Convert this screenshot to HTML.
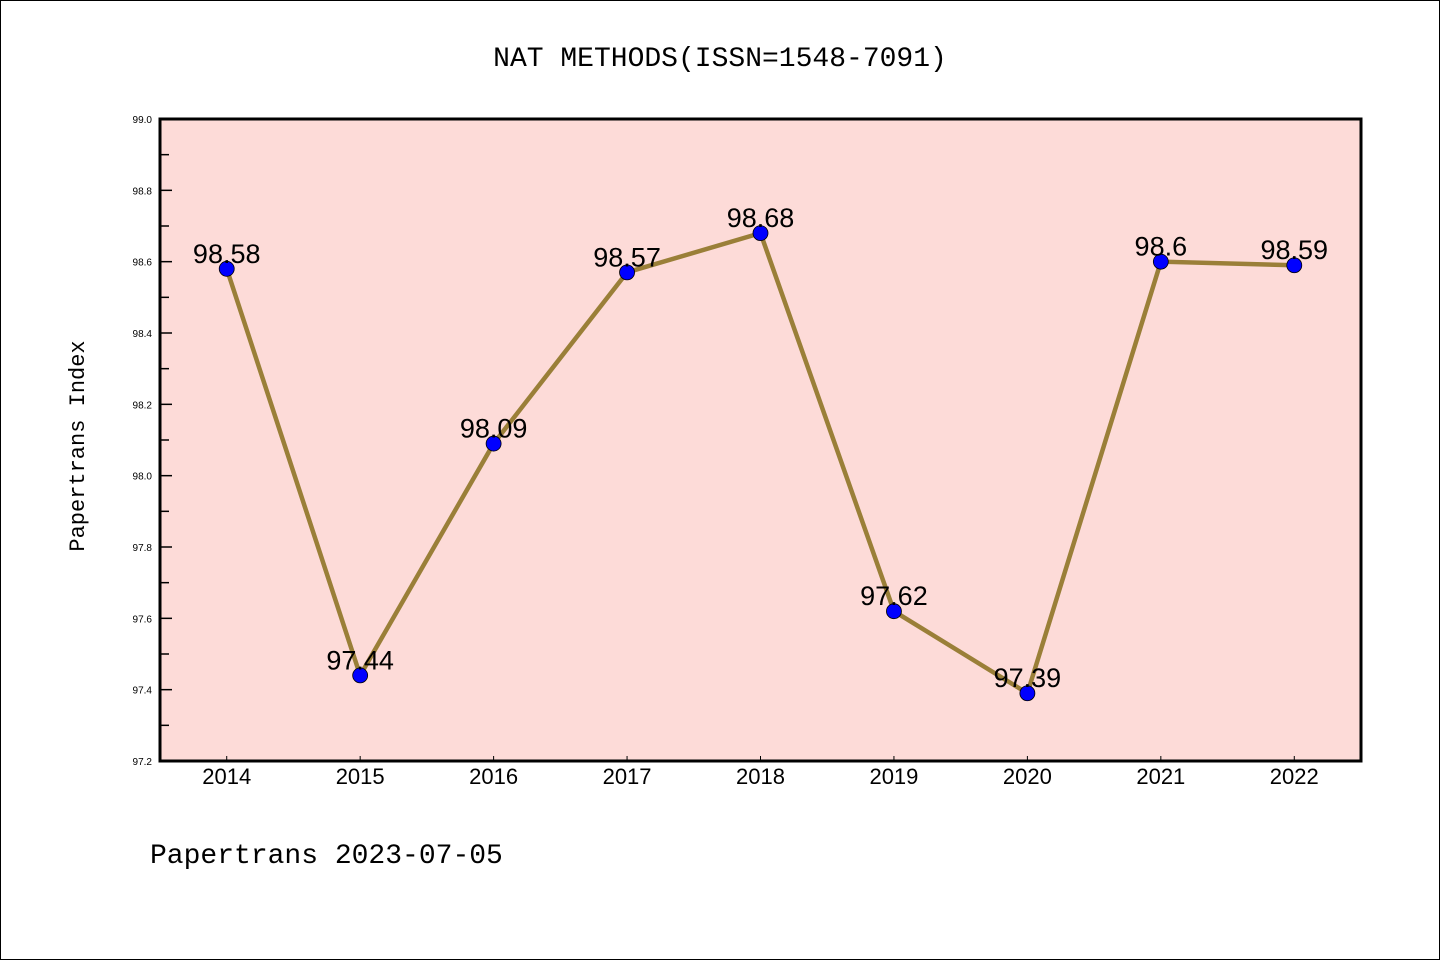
<!DOCTYPE html>
<html><head><meta charset="utf-8"><style>
body{margin:0;background:#fff}
svg{display:block}
text{font-family:"Liberation Sans","DejaVu Sans",sans-serif}
</style></head><body>
<svg id="c" width="1440" height="960">
<rect x="0.5" y="0.5" width="1439" height="959" fill="#fff" stroke="#000"/>
<text x="720" y="66" text-anchor="middle" font-size="28" style="font-family:'Liberation Mono',monospace">NAT METHODS(ISSN=1548-7091)</text>
<rect x="160" y="119" width="1201" height="642" fill="#fddbd8"/>
<g id="g"></g>
<rect x="160" y="119" width="1201" height="642" fill="none" stroke="#000" stroke-width="3"/>
<text transform="translate(84,446) rotate(-90)" text-anchor="middle" font-size="22" style="font-family:'Liberation Mono',monospace">Papertrans Index</text>
<text x="150" y="863" font-size="28" style="font-family:'Liberation Mono',monospace">Papertrans 2023-07-05</text>
</svg>
<script>
const years=["2014","2015","2016","2017","2018","2019","2020","2021","2022"];
const values=[98.58,97.44,98.09,98.57,98.68,97.62,97.39,98.6,98.59];
const yTicks=["97.2","97.4","97.6","97.8","98.0","98.2","98.4","98.6","98.8","99.0"];
const L=160,R=1361,T=119,B=761,Y0=97.2,Y1=99.0;
const xs=i=>L+(i+0.5)*(R-L)/years.length;
const ys=v=>B-(v-Y0)/(Y1-Y0)*(B-T);
const g=document.getElementById('g');const NS='http://www.w3.org/2000/svg';
function mk(t,a){const e=document.createElementNS(NS,t);for(const k in a)e.setAttribute(k,a[k]);g.appendChild(e);return e;}
for(let k=0;k<=18;k++){const v=Y0+k*0.1;const y=ys(v);const major=k%2===0;
const l=mk('line',{x1:L,x2:L+(major?12:9),y1:y,y2:y,stroke:'#000','stroke-width':1.5});

}
yTicks.forEach(t=>{const e=mk('text',{x:152,y:ys(+t)+4,'text-anchor':'end','font-size':10});e.textContent=t;

});
years.forEach((yr,i)=>{const x=xs(i);
const l=mk('line',{x1:x,x2:x,y1:B,y2:B-5,stroke:'#000','stroke-width':1});


const e=mk('text',{x:x,y:784,'text-anchor':'middle','font-size':22});e.textContent=yr;

});
const p=mk('polyline',{points:values.map((v,i)=>xs(i)+','+ys(v)).join(' '),fill:'none',stroke:'#9a7f38','stroke-width':4.5});


values.forEach((v,i)=>{const c=mk('circle',{cx:xs(i),cy:ys(v),r:7.5,fill:'#0000ff',stroke:'#000','stroke-width':0.8});


const t=mk('text',{x:xs(i),y:ys(v)-6,'text-anchor':'middle','font-size':27});t.textContent=String(v);

});
</script>
</body></html>
